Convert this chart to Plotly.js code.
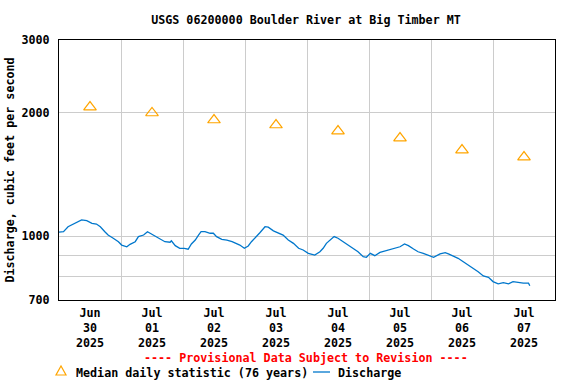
<!DOCTYPE html>
<html>
<head>
<meta charset="utf-8">
<script src="https://cdn.plot.ly/plotly-3.0.1.min.js"></script>
<style>html,body{margin:0;padding:0;background:#fff}#chart{width:576px;height:384px}</style>
</head>
<body>
<div id="chart"></div>
<script>
// ---- data ----
const chartTitle = "USGS 06200000 Boulder River at Big Timber MT";
const yAxisTitle = "Discharge, cubic feet per second";
const provisionalText = "---- Provisional Data Subject to Revision ----";
const medianName = "Median daily statistic (76 years)";
const dischargeName = "Discharge";

const medianDates = ["2025-06-30 12:00","2025-07-01 12:00","2025-07-02 12:00","2025-07-03 12:00",
                     "2025-07-04 12:00","2025-07-05 12:00","2025-07-06 12:00","2025-07-07 12:00"];
const medianValues = [2061, 1994, 1917, 1864, 1802, 1733, 1620, 1558];

const dischargeTimes = [
 "2025-06-30 00:00","2025-06-30 01:45","2025-06-30 03:30","2025-06-30 05:30","2025-06-30 07:30","2025-06-30 08:45",
 "2025-06-30 10:45","2025-06-30 12:45","2025-06-30 14:30","2025-06-30 16:00","2025-06-30 17:45","2025-06-30 19:00",
 "2025-06-30 21:00","2025-06-30 23:00",
 "2025-07-01 00:15","2025-07-01 02:15","2025-07-01 03:30","2025-07-01 05:30","2025-07-01 06:45","2025-07-01 08:45",
 "2025-07-01 10:15","2025-07-01 12:00","2025-07-01 13:15","2025-07-01 15:00","2025-07-01 17:00","2025-07-01 19:00",
 "2025-07-01 19:30","2025-07-01 21:00","2025-07-01 22:45",
 "2025-07-02 00:30","2025-07-02 02:00","2025-07-02 03:15","2025-07-02 04:45","2025-07-02 06:00","2025-07-02 07:00",
 "2025-07-02 08:30","2025-07-02 10:30","2025-07-02 11:45","2025-07-02 13:00","2025-07-02 15:00","2025-07-02 17:00",
 "2025-07-02 19:00","2025-07-02 20:45","2025-07-02 22:00","2025-07-02 23:45",
 "2025-07-03 01:15","2025-07-03 02:30","2025-07-03 04:30","2025-07-03 05:45","2025-07-03 07:45","2025-07-03 09:00",
 "2025-07-03 11:00","2025-07-03 13:00","2025-07-03 14:45","2025-07-03 16:45","2025-07-03 18:45","2025-07-03 20:45",
 "2025-07-03 22:30",
 "2025-07-04 00:30","2025-07-04 03:00","2025-07-04 05:00","2025-07-04 06:15","2025-07-04 07:30","2025-07-04 09:00",
 "2025-07-04 10:30","2025-07-04 12:00","2025-07-04 14:00","2025-07-04 16:00","2025-07-04 18:00","2025-07-04 19:45",
 "2025-07-04 21:45","2025-07-04 23:00",
 "2025-07-05 00:30","2025-07-05 02:15","2025-07-05 04:15","2025-07-05 06:15","2025-07-05 08:15","2025-07-05 10:00",
 "2025-07-05 12:00","2025-07-05 13:45","2025-07-05 15:15","2025-07-05 17:15","2025-07-05 19:00","2025-07-05 21:00",
 "2025-07-05 23:00",
 "2025-07-06 01:00","2025-07-06 03:30","2025-07-06 05:30","2025-07-06 06:45","2025-07-06 08:45","2025-07-06 10:30",
 "2025-07-06 12:30","2025-07-06 14:30","2025-07-06 16:30","2025-07-06 18:15","2025-07-06 20:15","2025-07-06 22:15",
 "2025-07-07 00:00","2025-07-07 02:00","2025-07-07 04:00","2025-07-07 06:00","2025-07-07 07:45","2025-07-07 09:45",
 "2025-07-07 11:45","2025-07-07 13:45","2025-07-07 14:15"
];
const dischargeValues = [
 1024,1026,1055,1071,1085,1096,1091,1075,1071,1055,1026,1007,989,970,
 952,943,956,970,998,1007,1026,1011,1003,989,970,967,975,949,935,
 935,930,958,979,1007,1026,1026,1017,1017,998,983,979,970,958,952,935,
 947,970,998,1020,1055,1052,1031,1020,1007,979,961,935,926,
 909,900,917,935,961,979,998,989,970,949,931,917,892,889,
 909,897,914,922,931,935,943,958,949,931,917,909,897,
 889,906,912,906,895,884,867,851,836,820,801,795,
 776,766,771,766,776,771,769,769,758
];

const xTickVals = medianDates;
const xTickText = ["Jun<br>30<br>2025","Jul<br>01<br>2025","Jul<br>02<br>2025","Jul<br>03<br>2025",
                   "Jul<br>04<br>2025","Jul<br>05<br>2025","Jul<br>06<br>2025","Jul<br>07<br>2025"];
const yTickVals = [700, 800, 900, 1000, 2000, 3000];
const yTickText = ["700", "", "", "1000", "2000", "3000"];
const xRange = ["2025-06-30 00:00", "2025-07-08 00:00"];
const yRange = [700, 3000];

// ---- layout helpers (pixel -> paper) ----
const M = {l: 59, r: 21, t: 40, b: 84};
const W = 576, H = 384;
const PW = W - M.l - M.r, PH = H - M.t - M.b;
const px = x => (x - M.l) / PW;
const py = y => (H - M.b - y) / PH;

const FONT = "DejaVu Sans Mono, Liberation Mono, monospace";
const ORANGE = "#FFA500";
const BLUE = "#0077CC";

const traces = [
  {
    x: dischargeTimes, y: dischargeValues, name: dischargeName,
    type: "scatter", mode: "lines",
    line: {color: BLUE, width: 1.3}, showlegend: false, hoverinfo: "skip"
  },
  {
    x: medianDates, y: medianValues, name: medianName,
    type: "scatter", mode: "markers",
    marker: {symbol: "triangle-up-open", size: 11, color: ORANGE, line: {color: ORANGE, width: 1.2}},
    showlegend: false, hoverinfo: "skip"
  }
];

const layout = {
  width: W, height: H,
  margin: M,
  paper_bgcolor: "#fff", plot_bgcolor: "#fff",
  font: {family: FONT, size: 11.7, color: "#000", weight: "bold"},
  showlegend: false,
  title: {text: chartTitle, x: px(306), xanchor: "center", xref: "paper", y: 1 - 20 / H, yanchor: "middle",
          font: {family: FONT, size: 11.7, color: "#000", weight: "bold"}},
  xaxis: {
    type: "date", range: xRange, fixedrange: true,
    tickmode: "array", tickvals: xTickVals, ticktext: xTickText,
    showgrid: false, ticks: "", tickfont: {family: FONT, size: 11.7, weight: "bold"},
    ticklabelstandoff: 2,
    minor: {dtick: 86400000, tick0: "2025-06-30 00:00", showgrid: true, gridcolor: "#cccccc", gridwidth: 1, ticks: ""},
    showline: true, linecolor: "#000", linewidth: 1, mirror: true, zeroline: false
  },
  yaxis: {
    type: "log", range: [Math.log10(yRange[0]), Math.log10(yRange[1])], fixedrange: true,
    tickmode: "array", tickvals: yTickVals, ticktext: yTickText,
    showgrid: true, gridcolor: "#cccccc", gridwidth: 1, ticks: "",
    tickfont: {family: FONT, size: 11.7, weight: "bold"},
    ticklabelstandoff: 6,
    title: {text: yAxisTitle, font: {family: FONT, size: 11.7, weight: "bold"}, standoff: 4},
    showline: true, linecolor: "#000", linewidth: 1, mirror: true, zeroline: false
  },
  annotations: [
    {text: provisionalText, xref: "paper", yref: "paper", x: px(306), y: py(358),
     xanchor: "center", yanchor: "middle", showarrow: false,
     font: {family: FONT, size: 11.7, color: "#FF0000", weight: "bold"}},
    {text: medianName, xref: "paper", yref: "paper", x: px(74), y: py(373),
     xanchor: "left", yanchor: "middle", showarrow: false,
     font: {family: FONT, size: 11.7, color: "#000", weight: "bold"}},
    {text: dischargeName, xref: "paper", yref: "paper", x: px(336), y: py(373),
     xanchor: "left", yanchor: "middle", showarrow: false,
     font: {family: FONT, size: 11.7, color: "#000", weight: "bold"}}
  ],
  shapes: [
    {type: "line", xref: "paper", yref: "paper", x0: px(313), x1: px(330), y0: py(372), y1: py(372),
     line: {color: BLUE, width: 1.3}},
    {type: "path", xref: "paper", yref: "paper", xsizemode: "pixel", ysizemode: "pixel",
     xanchor: px(61), yanchor: py(371), path: "M -5,-4 L 5,-4 L 0,5 Z",
     line: {color: ORANGE, width: 1.2}, fillcolor: "rgba(0,0,0,0)"}
  ]
};

Plotly.newPlot("chart", traces, layout, {staticPlot: true, displayModeBar: false});
</script>
</body>
</html>
